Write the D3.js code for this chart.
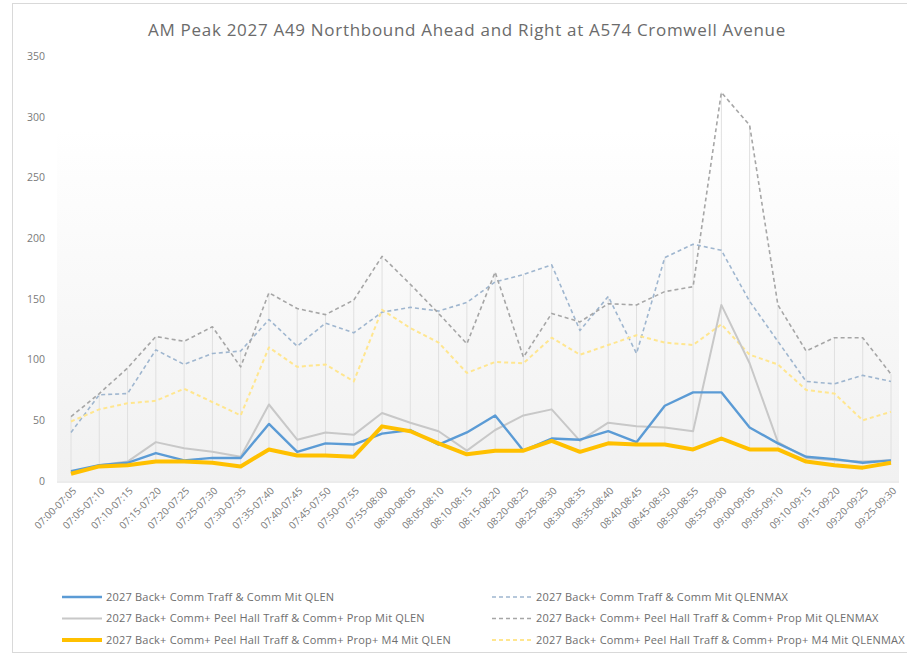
<!DOCTYPE html>
<html>
<head>
<meta charset="utf-8">
<script src="https://cdn.jsdelivr.net/npm/d3@7"></script>
<style>
  html, body { margin: 0; padding: 0; background: #fff; }
  svg { display: block; }
</style>
</head>
<body>
<svg id="chart" width="907" height="659"></svg>
<script>
// Five-minute intervals of the AM peak
const categories = [
  "07:00-07:05","07:05-07:10","07:10-07:15","07:15-07:20","07:20-07:25","07:25-07:30",
  "07:30-07:35","07:35-07:40","07:40-07:45","07:45-07:50","07:50-07:55","07:55-08:00",
  "08:00-08:05","08:05-08:10","08:10-08:15","08:15-08:20","08:20-08:25","08:25-08:30",
  "08:30-08:35","08:35-08:40","08:40-08:45","08:45-08:50","08:50-08:55","08:55-09:00",
  "09:00-09:05","09:05-09:10","09:10-09:15","09:15-09:20","09:20-09:25","09:25-09:30"
];

const yTicks = [0, 50, 100, 150, 200, 250, 300, 350];

// Queue lengths per interval
const commQlen = [8, 13, 15, 23, 17, 19, 19, 47, 24, 31, 30, 39, 42, 30, 40, 54, 25, 35, 34, 41,
                  32, 62, 73, 73, 44, 31, 20, 18, 15, 17];
const commQlenMax = [40, 71, 72, 108, 96, 105, 107, 133, 111, 130, 122, 139, 143, 140, 147, 164, 170, 178, 124, 152,
                     105, 184, 195, 190, 148, 115, 82, 80, 87, 82];
const peelQlen = [7, 13, 16, 32, 27, 24, 20, 63, 34, 40, 38, 56, 48, 41, 25, 42, 54, 59, 33, 48,
                  45, 44, 41, 145, 97, 32, 19, 17, 16, 17];
const peelQlenMax = [53, 72, 93, 119, 115, 127, 94, 155, 142, 137, 149, 185, 162, 138, 113, 172, 102, 138, 131, 146,
                     145, 156, 160, 320, 293, 145, 107, 118, 118, 88];
const m4Qlen = [6, 12, 13, 16, 16, 15, 12, 26, 21, 21, 20, 45, 41, 31, 22, 25, 25, 33, 24, 31,
                30, 30, 26, 35, 26, 26, 16, 13, 11, 15];
const m4QlenMax = [49, 59, 64, 66, 76, 65, 54, 110, 94, 96, 82, 141, 126, 114, 89, 98, 97, 118, 104, 112,
                   120, 114, 112, 129, 104, 96, 75, 72, 50, 57];

const seriesNames = [
  "2027 Back+ Comm Traff & Comm Mit QLEN",
  "2027 Back+ Comm Traff & Comm Mit QLENMAX",
  "2027 Back+ Comm+ Peel Hall Traff & Comm+ Prop Mit QLEN",
  "2027 Back+ Comm+ Peel Hall Traff & Comm+ Prop Mit QLENMAX",
  "2027 Back+ Comm+ Peel Hall Traff & Comm+ Prop+ M4 Mit QLEN",
  "2027 Back+ Comm+ Peel Hall Traff & Comm+ Prop+ M4 Mit QLENMAX"
];

const series = [
  { name: seriesNames[0], values: commQlen,    color: "#5b9bd5", width: 2.4, dash: null },
  { name: seriesNames[1], values: commQlenMax, color: "#9fb6cf", width: 1.6, dash: "4,3" },
  { name: seriesNames[2], values: peelQlen,    color: "#c8c8c8", width: 2,   dash: null },
  { name: seriesNames[3], values: peelQlenMax, color: "#a6a6a6", width: 1.6, dash: "4,3" },
  { name: seriesNames[4], values: m4Qlen,      color: "#ffc000", width: 4,   dash: null },
  { name: seriesNames[5], values: m4QlenMax,   color: "#ffe68f", width: 2,   dash: "4,3" }
];

const svg = d3.select("#chart");
const font = "'Open Sans', 'Liberation Sans', sans-serif";

// Outer chart frame
svg.append("rect")
  .attr("x", 12.5).attr("y", 3.5).attr("width", 900).attr("height", 649)
  .attr("fill", "#fff").attr("stroke", "#d9d9d9");

const x = d3.scalePoint().domain(categories).range([71, 891]);
const y = d3.scaleLinear().domain([0, 350]).range([481, 56]);

// Soft plot background
const defs = svg.append("defs");
const grad = defs.append("linearGradient").attr("id", "plotBg")
  .attr("x1", 0).attr("y1", 0).attr("x2", 0).attr("y2", 1);
grad.append("stop").attr("offset", "0%").attr("stop-color", "#ffffff");
grad.append("stop").attr("offset", "100%").attr("stop-color", "#f1f1f1");
svg.append("rect")
  .attr("x", 57).attr("y", y(290)).attr("width", 842).attr("height", y(0) - y(290))
  .attr("fill", "url(#plotBg)");

// High-low lines at each interval
svg.append("g").selectAll("line")
  .data(categories)
  .join("line")
  .attr("x1", d => x(d)).attr("x2", d => x(d))
  .attr("y1", (d, i) => y(d3.max(series, s => s.values[i])))
  .attr("y2", (d, i) => y(d3.min(series, s => s.values[i])))
  .attr("stroke", "#e0e0e0").attr("stroke-width", 1);

// Category axis baseline
svg.append("line")
  .attr("x1", 57).attr("x2", 899).attr("y1", y(0) + 1).attr("y2", y(0) + 1)
  .attr("stroke", "#d9d9d9");

// Value axis
const yAxis = svg.append("g")
  .attr("transform", "translate(49,0)")
  .call(d3.axisLeft(y).tickValues(yTicks).tickSize(0).tickPadding(4));
yAxis.select(".domain").remove();
yAxis.selectAll("text")
  .attr("font-family", font).attr("font-size", 10.5).attr("fill", "#7a7a7a");

// Category labels
const xAxis = svg.append("g")
  .attr("transform", `translate(0,${y(0) + 4})`)
  .call(d3.axisBottom(x).tickSize(0).tickPadding(0));
xAxis.select(".domain").remove();
xAxis.selectAll("text")
  .attr("font-family", font).attr("font-size", 10).attr("fill", "#7a7a7a")
  .attr("text-anchor", "end")
  .attr("dy", "0.35em")
  .attr("transform", "translate(3,4) rotate(-45)");

// Series lines
const line = d3.line()
  .x((d, i) => x(categories[i]))
  .y(d => y(d));

const drawOrder = [1, 3, 5, 2, 0, 4];
svg.append("g").selectAll("path")
  .data(drawOrder.map(i => series[i]))
  .join("path")
  .attr("d", s => line(s.values))
  .attr("fill", "none")
  .attr("stroke", s => s.color)
  .attr("stroke-width", s => s.width)
  .attr("stroke-dasharray", s => s.dash)
  .attr("stroke-linejoin", "round");

// Title
svg.append("text")
  .attr("x", 467).attr("y", 36)
  .attr("text-anchor", "middle")
  .attr("font-family", font).attr("font-size", 17).attr("letter-spacing", 0.7)
  .attr("fill", "#6b6b6b")
  .text("AM Peak 2027 A49 Northbound Ahead and Right at A574 Cromwell Avenue");

// Legend: two columns, three rows
const legendRows = [597, 618.5, 640];
const legendCols = [62, 492];
const legend = svg.append("g");
series.forEach((s, i) => {
  const col = i % 2, row = Math.floor(i / 2);
  const lx = legendCols[col], ly = legendRows[row];
  legend.append("line")
    .attr("x1", lx).attr("x2", lx + 40).attr("y1", ly).attr("y2", ly)
    .attr("stroke", s.color).attr("stroke-width", s.width)
    .attr("stroke-dasharray", s.dash);
  legend.append("text")
    .attr("x", lx + 44).attr("y", ly).attr("dy", "0.35em")
    .attr("font-family", font).attr("font-size", 11).attr("letter-spacing", 0.2)
    .attr("fill", "#6e6e6e")
    .text(s.name);
});
</script>
</body>
</html>
